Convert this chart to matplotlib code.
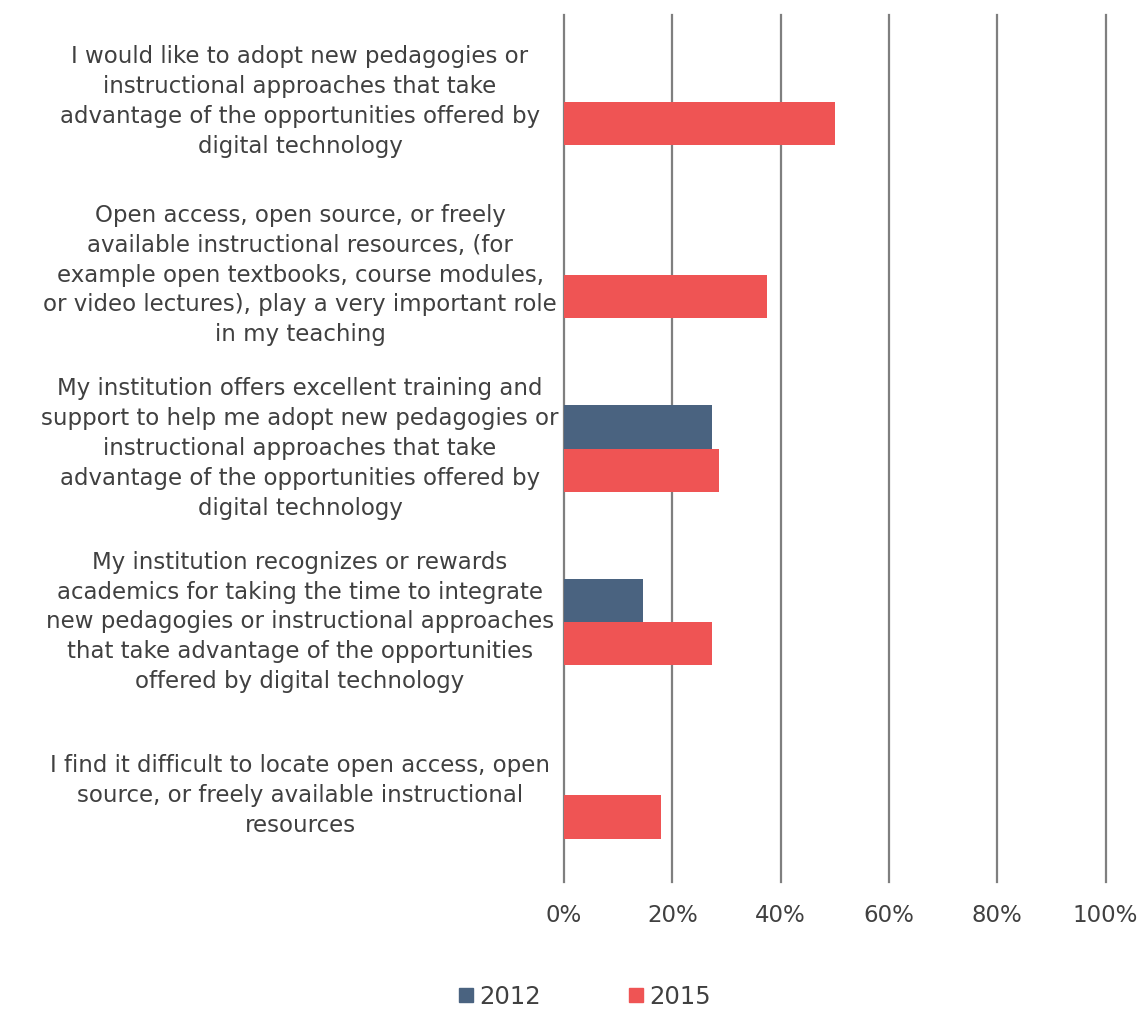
import matplotlib
matplotlib.use("Agg")
import matplotlib.pyplot as plt
from matplotlib.lines import Line2D

plt.rcParams['font.family'] = ['DejaVu Sans']

categories = [
    "I would like to adopt new pedagogies or\ninstructional approaches that take\nadvantage of the opportunities offered by\ndigital technology",
    "Open access, open source, or freely\navailable instructional resources, (for\nexample open textbooks, course modules,\nor video lectures), play a very important role\nin my teaching",
    "My institution offers excellent training and\nsupport to help me adopt new pedagogies or\ninstructional approaches that take\nadvantage of the opportunities offered by\ndigital technology",
    "My institution recognizes or rewards\nacademics for taking the time to integrate\nnew pedagogies or instructional approaches\nthat take advantage of the opportunities\noffered by digital technology",
    "I find it difficult to locate open access, open\nsource, or freely available instructional\nresources",
]
values_2012 = [None, None, 0.274, 0.146, None]
values_2015 = [0.50, 0.374, 0.286, 0.274, 0.179]
series_names = ["2012", "2015"]
tick_values = [0, 0.2, 0.4, 0.6, 0.8, 1.0]
tick_labels = ["0%", "20%", "40%", "60%", "80%", "100%"]

color_2012 = "#4A6380"
color_2015 = "#EF5454"
grid_color = "#7F7F7F"
text_color = "#404040"
fs = 16.5

fig = plt.figure(figsize=(11.43, 10.11), dpi=100)
ax = fig.add_axes([564 / 1143, 1 - 882 / 1011, 541.5 / 1143, 867 / 1011])

bar_h = 0.25
ys = list(range(len(categories)))
for y, v12, v15 in zip(ys, values_2012, values_2015):
    if v12 is not None:
        ax.barh(y - bar_h / 2, v12, height=bar_h, color=color_2012, zorder=3)
    if v15 is not None:
        ax.barh(y + bar_h / 2, v15, height=bar_h, color=color_2015, zorder=3)

ax.set_xlim(0, 1)
ax.set_ylim(len(categories) - 0.5, -0.5)
for s in ax.spines.values():
    s.set_visible(False)
for t in tick_values:
    ax.axvline(t, color=grid_color, lw=1.6, zorder=1, clip_on=False)

ax.set_xticks(tick_values, labels=tick_labels)
ax.tick_params(axis='x', length=0, pad=16, labelsize=fs, labelcolor=text_color)
ax.set_yticks([])

tr = ax.get_yaxis_transform()
for y, lab in zip(ys, categories):
    ax.text(-0.4875, y, lab, transform=tr, ha='center', va='center',
            multialignment='center', fontsize=fs, color=text_color,
            linespacing=1.38)

handles = [
    Line2D([], [], marker='s', linestyle='none', markersize=10,
           markerfacecolor=color_2012, markeredgecolor=color_2012),
    Line2D([], [], marker='s', linestyle='none', markersize=10,
           markerfacecolor=color_2015, markeredgecolor=color_2015),
]
fig.legend(handles, series_names, loc='center', ncol=2,
           bbox_to_anchor=(585 / 1143, 1 - 997 / 1011), frameon=False,
           fontsize=17.5, labelcolor=text_color, handlelength=0.6,
           handletextpad=0.25, columnspacing=3.6)

fig.savefig("out.png", dpi=100, facecolor='white')
